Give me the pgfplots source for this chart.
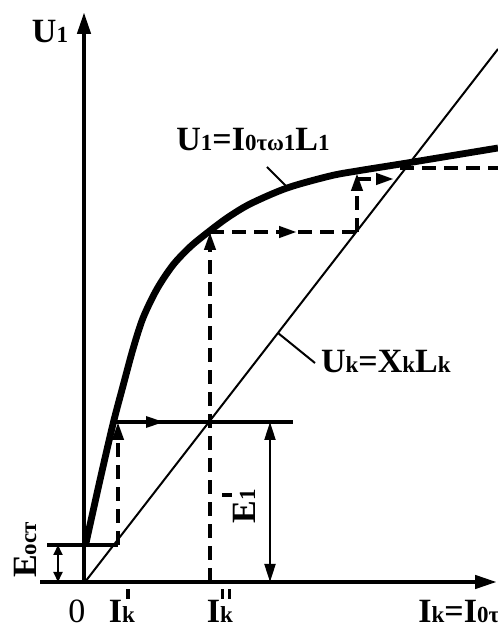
\documentclass[border=0pt]{standalone}
\usepackage{pgfplots}
\pgfplotsset{compat=1.18}
\usetikzlibrary{arrows.meta}
\usepackage{fontspec}
\setmainfont{Liberation Serif}

% small "subscript" characters sitting on the baseline
\newcommand{\s}[1]{{\fontsize{11.5}{12}\selectfont #1}}
\newcommand{\lbl}[1]{{\fontsize{17}{18}\selectfont\bfseries #1}}

\tikzset{
  bigtip/.style={-{Triangle[length=11pt,width=6.5pt]}},
  tip/.style={-{Triangle[length=9pt,width=5.5pt]}},
  dsh/.style={line width=2pt, dash pattern=on 7pt off 4pt},
}

\begin{document}
\begin{tikzpicture}
\begin{axis}[
  width=249pt, height=314pt, scale only axis,
  xmin=0, xmax=498, ymin=0, ymax=628,
  hide axis, clip=false,
]
% axes
\addplot[line width=2.2pt, bigtip] coordinates {(84,46) (84,616)};
\addplot[line width=2.2pt, bigtip] coordinates {(40,46) (497,46)};

% U_k = X_k L_k (straight line)
\addplot[line width=1pt] coordinates {(85,46) (498,579)};

% U_1 = I0 w1 L1 (magnetisation curve)
\addplot[line width=3.4pt, smooth] coordinates {
  (86,85) (100,148) (113,204) (123,242) (133,279) (143,310) (157,339)
  (173,363) (190,381) (207,395) (227,410) (250,424) (287,440) (330,452)
  (357,457) (407,465) (498,480)};

% residual emf level
\addplot[line width=1.6pt] coordinates {(47,83) (118,83)};
\addplot[line width=1pt, {Triangle[length=5pt,width=4.5pt]}-{Triangle[length=5pt,width=4.5pt]}]
  coordinates {(58,83) (58,46)};

% first step
\addplot[dsh, tip] coordinates {(118,83) (118,206)};
\addplot[line width=1.6pt] coordinates {(115,206) (293,206)};
\addplot[line width=1.6pt, tip] coordinates {(115,206) (164,206)};
\addplot[line width=1pt, {Triangle[length=9pt,width=5.5pt]}-{Triangle[length=9pt,width=5.5pt]}]
  coordinates {(270,206) (270,46)};

% second step
\addplot[dsh, tip] coordinates {(210,46) (210,396)};
\addplot[dsh] coordinates {(210,396) (357,396)};
\addplot[line width=2pt, tip] coordinates {(286,396) (297,396)};
\addplot[dsh, tip] coordinates {(357,396) (357,455)};
\addplot[dsh] coordinates {(357,449) (382,449)};
\addplot[line width=2pt, tip] coordinates {(380,449) (394,449)};
\addplot[dsh] coordinates {(400,460) (498,460)};

% leader lines
\addplot[line width=1pt] coordinates {(267,461) (287,441)};
\addplot[line width=1pt] coordinates {(278,295) (315,265)};

% labels
\node at (axis cs:50,596) {\lbl{U\s{1}}};
\node at (axis cs:253,488) {\lbl{U\s{1}=I\s{0τω1}L\s{1}}};
\node[anchor=west] at (axis cs:314,266) {\lbl{U\s{k}=X\s{k}L\s{k}}};
\node[rotate=90] at (axis cs:25,78) {\lbl{E\s{ост}}};
\node[rotate=90] at (axis cs:244,122) {\lbl{E\s{1}}};
\node at (axis cs:227,133) {\rule{5pt}{1.8pt}};
\begin{scope}[every node/.style={inner sep=0pt, anchor=base}]
\node at (axis cs:77,5) {\fontsize{17}{18}\selectfont 0};
\node at (axis cs:122,5) {\lbl{I\s{k}}};
\node at (axis cs:220,5) {\lbl{I\s{k}}};
\node[anchor=base west] at (axis cs:418,5) {\lbl{I\s{k}=I\s{0τ}}};
\end{scope}
\node at (axis cs:128,34) {\rule{1.6pt}{5pt}};
\node at (axis cs:226,34) {\rule{1.6pt}{5pt}\hspace{2pt}\rule{1.6pt}{5pt}};
\end{axis}
\pgfresetboundingbox
\useasboundingbox (current axis.south west) rectangle (current axis.north east);
\end{tikzpicture}
\end{document}
